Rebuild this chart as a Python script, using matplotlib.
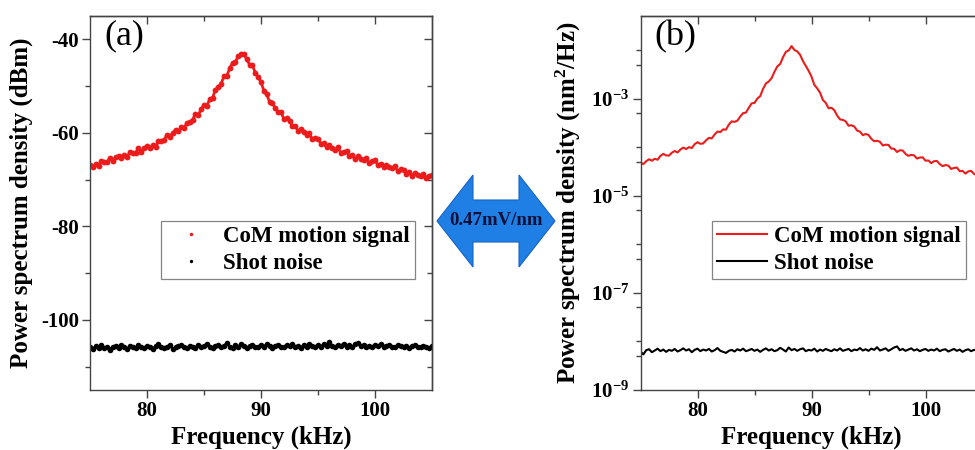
import numpy as np
import matplotlib
matplotlib.use('Agg')
import matplotlib.pyplot as plt
from matplotlib.ticker import FixedLocator, FixedFormatter, NullFormatter
from matplotlib.patches import Polygon

plt.rcParams['font.family'] = 'Liberation Serif'
plt.rcParams['font.weight'] = 'bold'
plt.rcParams['axes.unicode_minus'] = False
plt.rcParams['mathtext.fontset'] = 'custom'
plt.rcParams['mathtext.rm'] = 'Liberation Serif:bold'
plt.rcParams['mathtext.it'] = 'Liberation Serif:bold'
plt.rcParams['mathtext.bf'] = 'Liberation Serif:bold'

# frequency grid of the spectrum (kHz), 0.25 kHz steps
freq = np.linspace(75.0, 105.0, 121)

# (a) power spectrum density in dBm
psd_a_signal = [
    -66.8, -67.3, -66.7, -67.1, -66.1, -66.2, -66.2, -65.3, -66.0, -65.2,
    -64.9, -65.4, -64.7, -65.1, -64.1, -64.2, -64.2, -63.3, -64.0, -63.2,
    -62.8, -63.3, -62.6, -63.0, -61.8, -61.7, -61.5, -60.4, -60.9, -60.0,
    -59.3, -59.7, -58.8, -59.0, -57.8, -57.6, -57.2, -55.9, -56.2, -54.9,
    -54.1, -54.2, -52.8, -52.5, -50.8, -50.2, -49.5, -47.9, -47.8, -46.2,
    -45.0, -44.8, -43.6, -43.2, -43.1, -44.3, -45.4, -45.5, -47.2, -48.0,
    -49.1, -51.0, -51.7, -53.4, -53.6, -54.7, -55.6, -55.5, -57.0, -56.9,
    -57.4, -58.6, -58.5, -59.6, -59.2, -59.9, -60.4, -60.1, -61.4, -61.1,
    -61.3, -62.3, -62.2, -63.1, -62.6, -63.2, -63.6, -63.1, -64.3, -64.0,
    -63.9, -65.0, -64.8, -65.6, -65.0, -65.5, -65.9, -65.3, -66.5, -66.0,
    -65.9, -66.9, -66.6, -67.4, -66.8, -67.2, -67.6, -67.1, -68.2, -67.8,
    -67.9, -68.7, -68.4, -69.2, -68.6, -69.0, -69.3, -68.7, -69.7, -69.2,
    -69.1]
psd_a_noise = [
    -105.9, -106.3, -105.6, -106.0, -105.4, -106.1, -105.8, -106.4, -105.7, -105.5,
    -106.0, -105.3, -105.9, -106.2, -105.6, -105.8, -106.1, -105.4, -105.7, -106.0,
    -105.5, -105.9, -106.3, -105.6, -105.2, -105.8, -106.0, -105.7, -105.4, -106.2,
    -105.9, -105.6, -105.3, -105.8, -106.1, -105.5, -105.7, -106.0, -105.4, -105.9,
    -105.6, -105.1, -105.8, -106.0, -105.5, -105.3, -105.9, -105.6, -104.9, -105.7,
    -106.0, -105.4, -105.8, -105.2, -105.6, -106.1, -105.5, -105.3, -105.9, -105.7,
    -105.4, -105.8, -105.1, -105.6, -106.0, -105.5, -105.3, -105.7, -105.9, -105.4,
    -105.6, -105.2, -105.8, -105.5, -106.0, -105.3, -105.7, -105.1, -105.6, -105.9,
    -105.4, -105.7, -105.2, -105.5, -104.8, -105.6, -105.9, -105.3, -105.5, -105.1,
    -105.7, -105.4, -105.8, -105.2, -104.9, -105.6, -105.3, -105.7, -105.5, -105.9,
    -105.4, -105.6, -105.2, -105.8, -105.5, -105.3, -105.7, -105.9, -105.4, -105.6,
    -105.8, -105.5, -106.0, -105.6, -105.4, -105.7, -105.9, -105.5, -105.8, -106.0,
    -105.6]

# (b) displacement power spectrum density in nm^2/Hz
psd_b_signal = [
    4.79e-5, 4.47e-5, 5.13e-5, 5.62e-5, 5.25e-5, 5.75e-5, 5.50e-5, 6.61e-5, 7.24e-5, 6.76e-5,
    6.68e-5, 7.67e-5, 8.32e-5, 7.76e-5, 8.91e-5, 9.77e-5, 9.12e-5, 1.00e-4, 9.55e-5, 1.15e-4,
    1.26e-4, 1.17e-4, 1.19e-4, 1.38e-4, 1.55e-4, 1.51e-4, 1.82e-4, 2.09e-4, 2.04e-4, 2.32e-4,
    2.29e-4, 2.92e-4, 3.39e-4, 3.31e-4, 3.51e-4, 4.27e-4, 5.01e-4, 5.13e-4, 6.46e-4, 7.94e-4,
    8.13e-4, 1.00e-3, 1.12e-3, 1.58e-3, 2.04e-3, 2.24e-3, 2.63e-3, 3.55e-3, 4.57e-3, 5.13e-3,
    7.08e-3, 9.12e-3, 9.77e-3, 1.20e-2, 1.00e-2, 9.33e-3, 7.94e-3, 5.89e-3, 4.68e-3, 3.72e-3,
    2.82e-3, 1.91e-3, 1.62e-3, 1.32e-3, 9.33e-4, 8.13e-4, 6.31e-4, 6.46e-4, 5.75e-4, 4.47e-4,
    3.72e-4, 3.63e-4, 3.39e-4, 2.75e-4, 2.82e-4, 2.66e-4, 2.19e-4, 2.09e-4, 1.76e-4, 1.86e-4,
    1.78e-4, 1.48e-4, 1.32e-4, 1.35e-4, 1.29e-4, 1.08e-4, 1.12e-4, 1.11e-4, 9.33e-5, 9.23e-5,
    7.94e-5, 8.61e-5, 8.51e-5, 7.24e-5, 6.61e-5, 6.92e-5, 6.76e-5, 5.82e-5, 6.10e-5, 6.17e-5,
    5.25e-5, 5.31e-5, 4.68e-5, 5.13e-5, 5.19e-5, 4.47e-5, 4.07e-5, 4.27e-5, 4.17e-5, 3.55e-5,
    3.72e-5, 3.80e-5, 3.20e-5, 3.24e-5, 2.85e-5, 3.16e-5, 3.24e-5, 2.82e-5, 2.63e-5, 2.82e-5,
    2.75e-5]
psd_b_noise = [
    6.2e-9, 5.4e-9, 6.6e-9, 6.9e-9, 6.0e-9, 6.5e-9, 7.1e-9, 6.3e-9, 6.8e-9, 6.1e-9,
    6.7e-9, 6.4e-9, 7.0e-9, 6.2e-9, 6.6e-9, 7.2e-9, 6.5e-9, 6.9e-9, 6.0e-9, 6.7e-9,
    7.1e-9, 6.3e-9, 6.8e-9, 6.5e-9, 7.0e-9, 6.2e-9, 6.6e-9, 7.3e-9, 6.4e-9, 6.1e-9,
    5.8e-9, 6.4e-9, 6.7e-9, 6.2e-9, 6.9e-9, 6.5e-9, 7.1e-9, 6.3e-9, 6.6e-9, 7.0e-9,
    6.4e-9, 6.8e-9, 6.1e-9, 6.7e-9, 7.2e-9, 6.5e-9, 6.9e-9, 6.3e-9, 6.6e-9, 7.4e-9,
    6.8e-9, 6.2e-9, 7.5e-9, 6.6e-9, 7.0e-9, 6.4e-9, 6.9e-9, 7.2e-9, 6.3e-9, 6.7e-9,
    6.5e-9, 7.1e-9, 6.2e-9, 6.8e-9, 6.4e-9, 7.0e-9, 6.6e-9, 6.3e-9, 6.9e-9, 6.5e-9,
    7.2e-9, 6.4e-9, 6.7e-9, 7.0e-9, 6.3e-9, 6.8e-9, 6.6e-9, 7.3e-9, 6.5e-9, 6.9e-9,
    6.4e-9, 7.1e-9, 6.7e-9, 7.6e-9, 6.5e-9, 6.8e-9, 7.2e-9, 6.4e-9, 6.9e-9, 7.5e-9,
    7.9e-9, 6.6e-9, 7.0e-9, 6.4e-9, 6.8e-9, 7.2e-9, 6.5e-9, 6.9e-9, 6.3e-9, 6.7e-9,
    7.0e-9, 6.4e-9, 6.8e-9, 6.5e-9, 7.1e-9, 6.3e-9, 6.7e-9, 6.9e-9, 6.2e-9, 6.6e-9,
    7.0e-9, 6.4e-9, 6.8e-9, 6.1e-9, 6.6e-9, 6.9e-9, 6.3e-9, 6.7e-9, 6.5e-9, 6.2e-9,
    6.6e-9]

x_major = [80, 90, 100]
x_minor = [85, 95]
ya_major = [-100, -80, -60, -40]
ya_minor = [-110, -90, -70, -50]
yb_major = [1e-9, 1e-7, 1e-5, 1e-3]
yb_labels = [r'$10^{-9}$', r'$10^{-7}$', r'$10^{-5}$', r'$10^{-3}$']
yb_minor = [5e-9, 1e-8, 5e-8, 5e-7, 1e-6, 5e-6, 5e-5, 1e-4, 5e-4, 5e-3, 1e-2]

red = '#ec1c1c'
spine_col = '#444444'

W, H = 975, 450
fig = plt.figure(figsize=(W / 100, H / 100), dpi=100)
ax1 = fig.add_axes([90 / W, 60 / H, 342 / W, 374 / H])
ax2 = fig.add_axes([640.5 / W, 60 / H, 342 / W, 374 / H])

# dense measured points: a thin trace under the dots fills the band
ax1.plot(freq, psd_a_signal, '-', color=red, lw=2.0)
ax1.plot(freq, psd_a_noise, '-', color='black', lw=1.8)
ax1.plot(freq, psd_a_signal, 'o', color=red, ms=4.2, mew=0, label='CoM motion signal')
ax1.plot(freq, psd_a_noise, 'o', color='black', ms=4.0, mew=0, label='Shot noise')
ax2.semilogy(freq, psd_b_signal, color=red, lw=1.5, label='CoM motion signal')
ax2.semilogy(freq, psd_b_noise, color='black', lw=1.5, label='Shot noise')

ax1.set_xlim(75, 105)
ax1.set_ylim(-115, -35)
ax2.set_xlim(75, 105)
ax2.set_ylim(1e-9, 5e-2)


def style(ax, ymaj, ymin, ylabels=None):
    for s in ax.spines.values():
        s.set_linewidth(1.0)
        s.set_color(spine_col)
    ax.xaxis.set_major_locator(FixedLocator(x_major))
    ax.xaxis.set_minor_locator(FixedLocator(x_minor))
    ax.yaxis.set_major_locator(FixedLocator(ymaj))
    ax.yaxis.set_minor_locator(FixedLocator(ymin))
    if ylabels is not None:
        ax.yaxis.set_major_formatter(FixedFormatter(ylabels))
    ax.yaxis.set_minor_formatter(NullFormatter())
    ax.tick_params(which='both', direction='out', width=1.0, color=spine_col,
                   labelsize=15, labelcolor='black')
    ax.tick_params(which='major', length=6)
    ax.tick_params(which='minor', length=3.5)
    ax.tick_params(axis='x', pad=2)
    ax.tick_params(axis='y', pad=2)
    # mirrored ticks pointing inward on top and right
    top = ax.secondary_xaxis('top')
    top.xaxis.set_major_locator(FixedLocator(x_major))
    top.xaxis.set_minor_locator(FixedLocator(x_minor))
    top.xaxis.set_major_formatter(NullFormatter())
    top.tick_params(which='both', direction='in', width=1.0, color=spine_col)
    top.tick_params(which='major', length=6)
    top.tick_params(which='minor', length=3.5)
    right = ax.secondary_yaxis('right')
    right.yaxis.set_major_locator(FixedLocator(ymaj))
    right.yaxis.set_minor_locator(FixedLocator(ymin))
    right.yaxis.set_major_formatter(NullFormatter())
    right.yaxis.set_minor_formatter(NullFormatter())
    right.tick_params(which='both', direction='in', width=1.0, color=spine_col)
    right.tick_params(which='major', length=6)
    right.tick_params(which='minor', length=3.5)
    for sec in (top, right):
        for s in sec.spines.values():
            s.set_linewidth(1.0)
            s.set_color(spine_col)
    ax.set_xlabel('Frequency (kHz)', fontsize=18, fontweight='bold')
    ax.xaxis.set_label_coords(0.5, -0.095)


style(ax1, ya_major, ya_minor)
style(ax2, yb_major, yb_minor, yb_labels)

ax1.set_ylabel('Power spectrum density (dBm)', fontsize=18, fontweight='bold')
ax1.yaxis.set_label_coords(-0.167, 0.5)
ax2.set_ylabel('Power spectrum density (nm$^2$/Hz)', fontsize=18, fontweight='bold')
ax2.yaxis.set_label_coords(-0.168, 0.5)

for ax, tag in ((ax1, '(a)'), (ax2, '(b)')):
    ax.text(0.042, 0.99, tag, transform=ax.transAxes, fontsize=26,
            fontweight='normal', va='top', ha='left')
    leg = ax.legend(loc='upper left', bbox_to_anchor=(0.208, 0.452), borderaxespad=0,
                    fontsize=16.5, frameon=True, fancybox=False, handlelength=2.2,
                    handletextpad=0.3, borderpad=0.22, labelspacing=0.25, numpoints=1,
                    markerscale=0.6)
    leg.get_frame().set_edgecolor('#666666')
    leg.get_frame().set_linewidth(0.9)

# double-headed blue arrow with the calibration factor
cx, cy = 496, 221
half_len, head_len = 59, 36
head_half, shaft_half = 46, 21
pts = [(cx - half_len, cy),
       (cx - half_len + head_len, cy - head_half),
       (cx - half_len + head_len, cy - shaft_half),
       (cx + half_len - head_len, cy - shaft_half),
       (cx + half_len - head_len, cy - head_half),
       (cx + half_len, cy),
       (cx + half_len - head_len, cy + head_half),
       (cx + half_len - head_len, cy + shaft_half),
       (cx - half_len + head_len, cy + shaft_half),
       (cx - half_len + head_len, cy + head_half)]
pts = [(px / W, 1 - py / H) for px, py in pts]
fig.patches.append(Polygon(pts, closed=True, transform=fig.transFigure,
                           facecolor='#1f7fe4', edgecolor='#1663c4', linewidth=0.8))
fig.text(cx / W, 1 - cy / H, '0.47mV/nm', ha='center', va='center',
         fontsize=13.5, fontweight='bold', color='#101038')

fig.savefig('out.png', dpi=100)
